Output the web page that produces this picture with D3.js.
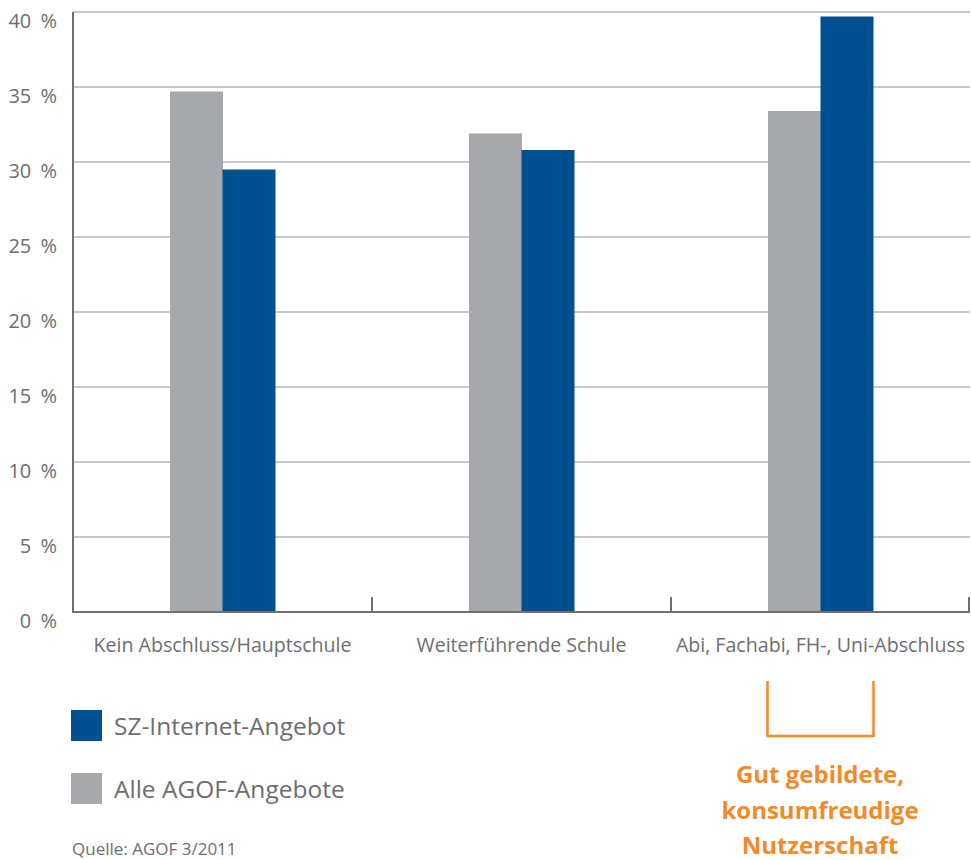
<!DOCTYPE html>
<html><head><meta charset="utf-8">
<script src="https://cdn.jsdelivr.net/npm/d3@7"></script>
<style>html,body{margin:0;padding:0;background:#fff;}svg{display:block;font-family:"Open Sans",sans-serif;}</style>
</head><body>
<svg id="chart" width="971" height="860"></svg>
<script>
const categories = ["Kein Abschluss/Hauptschule", "Weiterführende Schule", "Abi, Fachabi, FH-, Uni-Abschluss"];
const seriesNames = ["Alle AGOF-Angebote", "SZ-Internet-Angebot"];
const agofValues = [34.7, 31.9, 33.4];
const szValues = [29.5, 30.8, 39.7];
const yTicks = [0, 5, 10, 15, 20, 25, 30, 35, 40];
const legendItems = ["SZ-Internet-Angebot", "Alle AGOF-Angebote"];
const sourceText = "Quelle: AGOF 3/2011";
const noteLines = ["Gut gebildete,", "konsumfreudige", "Nutzerschaft"];

const BLUE = "#00508f", GREY = "#a7a8ab", TEXT = "#6d6e70", GRID = "#c8c8c8", ORANGE = "#f28a2a";
const svg = d3.select("#chart");
const mLeft = 73, mRight = 970, mTop = 12, mBottom = 612;

const x = d3.scaleBand().domain(categories).range([mLeft, mRight]).padding(0);
const y = d3.scaleLinear().domain([0, 40]).range([mBottom, mTop]);
const groupW = 105;
const xs = d3.scaleBand().domain(seriesNames).range([0, groupW]).padding(0);

// gridlines
svg.append("g").selectAll("line").data(yTicks.filter(d => d > 0)).join("line")
  .attr("x1", mLeft).attr("x2", mRight)
  .attr("y1", d => y(d)).attr("y2", d => y(d))
  .attr("stroke", GRID).attr("stroke-width", 2);

// bars
const data = categories.map((c, i) => ({c, vals: [
  {s: seriesNames[0], v: agofValues[i], col: GREY},
  {s: seriesNames[1], v: szValues[i], col: BLUE}]}));
const g = svg.append("g").selectAll("g").data(data).join("g")
  .attr("transform", d => `translate(${x(d.c) + x.bandwidth()/2 - groupW/2},0)`);
g.selectAll("rect").data(d => d.vals).join("rect")
  .attr("x", d => xs(d.s)).attr("width", xs.bandwidth() + 0.5)
  .attr("y", d => y(d.v)).attr("height", d => y(0) - y(d.v))
  .attr("fill", d => d.col);

// y axis labels
svg.append("g").selectAll("text").data(yTicks).join("text")
  .attr("x", 57).attr("y", d => y(d) + 16)
  .attr("text-anchor", "end").attr("fill", TEXT).attr("font-size", 20)
  .attr("word-spacing", 4)
  .text(d => d + " %");

// axes lines
svg.append("line").attr("x1", mLeft).attr("x2", mLeft).attr("y1", mTop).attr("y2", mBottom + 1)
  .attr("stroke", "#707070").attr("stroke-width", 2);
svg.append("line").attr("x1", mLeft - 1).attr("x2", mRight).attr("y1", mBottom).attr("y2", mBottom)
  .attr("stroke", "#707070").attr("stroke-width", 2);
const bounds = categories.map(c => x(c) + x.bandwidth()).filter(v => v > mLeft);
svg.append("g").selectAll("line").data(bounds).join("line")
  .attr("x1", d => Math.min(d, mRight - 1)).attr("x2", d => Math.min(d, mRight - 1))
  .attr("y1", mBottom - 15).attr("y2", mBottom)
  .attr("stroke", "#707070").attr("stroke-width", 2);

// category labels
svg.append("g").selectAll("text").data(categories).join("text")
  .attr("x", d => x(d) + x.bandwidth()/2).attr("y", 652)
  .attr("text-anchor", "middle").attr("fill", TEXT).attr("font-size", 19.6)
  .text(d => d);

// legend
const legCols = {"SZ-Internet-Angebot": BLUE, "Alle AGOF-Angebote": GREY};
const lg = svg.append("g").selectAll("g").data(legendItems).join("g")
  .attr("transform", (d, i) => `translate(71,${710 + i * 63})`);
lg.append("rect").attr("width", 31).attr("height", 31).attr("fill", d => legCols[d]);
lg.append("text").attr("x", 43).attr("y", 25).attr("fill", TEXT).attr("font-size", 24.5).text(d => d);

svg.append("text").attr("x", 72).attr("y", 855).attr("fill", TEXT).attr("font-size", 17).text(sourceText);

// bracket annotation
const c3 = x(categories[2]) + x.bandwidth()/2;
svg.append("path")
  .attr("d", `M${c3 - 53},681 V736 H${c3 + 53} V681`)
  .attr("fill", "none").attr("stroke", ORANGE).attr("stroke-width", 2.5);
svg.append("g").selectAll("text").data(noteLines).join("text")
  .attr("x", 820).attr("y", (d, i) => 783 + i * 35.5)
  .attr("text-anchor", "middle").attr("fill", ORANGE).attr("font-size", 24).attr("font-weight", "bold")
  .text(d => d);
</script>
</body></html>
